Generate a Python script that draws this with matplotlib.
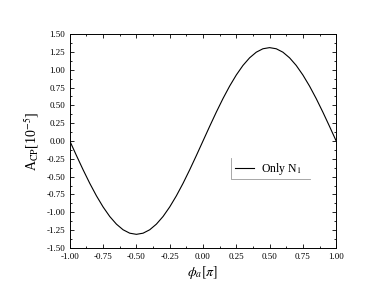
import numpy as np
import matplotlib
matplotlib.use('Agg')
import matplotlib.pyplot as plt
from matplotlib.ticker import MultipleLocator

# values
phi = [-1.00, -0.95, -0.90, -0.85, -0.80, -0.75, -0.70, -0.65, -0.60, -0.55, -0.50,
       -0.45, -0.40, -0.35, -0.30, -0.25, -0.20, -0.15, -0.10, -0.05, 0.00,
       0.05, 0.10, 0.15, 0.20, 0.25, 0.30, 0.35, 0.40, 0.45, 0.50,
       0.55, 0.60, 0.65, 0.70, 0.75, 0.80, 0.85, 0.90, 0.95, 1.00]
acp = [0.00, -0.205, -0.405, -0.595, -0.770, -0.926, -1.060, -1.167, -1.246, -1.294, -1.31,
       -1.294, -1.246, -1.167, -1.060, -0.926, -0.770, -0.595, -0.405, -0.205, 0.00,
       0.205, 0.405, 0.595, 0.770, 0.926, 1.060, 1.167, 1.246, 1.294, 1.31,
       1.294, 1.246, 1.167, 1.060, 0.926, 0.770, 0.595, 0.405, 0.205, 0.00]

plt.rcParams['font.family'] = ['Liberation Serif', 'DejaVu Serif']
plt.rcParams['mathtext.fontset'] = 'stix'

fig = plt.figure(figsize=(3.9, 2.99), dpi=100)
ax = fig.add_axes([0.179, 0.171, 0.683, 0.715])

ax.plot(phi, acp, color='black', lw=0.8, label='Only N$_1$')

ax.set_xlim(-1, 1)
ax.set_ylim(-1.5, 1.5)
ax.xaxis.set_major_locator(MultipleLocator(0.25))
ax.xaxis.set_minor_locator(MultipleLocator(0.125))
ax.yaxis.set_major_locator(MultipleLocator(0.25))
ax.yaxis.set_minor_locator(MultipleLocator(0.125))
ax.xaxis.set_major_formatter(plt.FuncFormatter(lambda v, p: f'{v:.2f}'))
ax.yaxis.set_major_formatter(plt.FuncFormatter(lambda v, p: f'{v:.2f}'))
ax.tick_params(which='both', direction='in', top=True, right=True, labelsize=6.5, width=0.6, colors='black')
ax.tick_params(which='major', length=3)
ax.tick_params(which='minor', length=1.5)
for s in ax.spines.values():
    s.set_linewidth(0.7)

ax.set_xlabel(r'$\phi_a[\pi]$', fontsize=10, labelpad=2)
ax.set_ylabel(r'A$_{\rm CP}$[10$^{-5}$]', fontsize=10, labelpad=4)

leg = ax.legend(loc='center left', bbox_to_anchor=(0.58, 0.37), frameon=False,
                fontsize=8.5, handlelength=1.6, handletextpad=0.6)
ax.plot([0.605, 0.605, 0.90], [0.42, 0.32, 0.32], transform=ax.transAxes,
        color='0.6', lw=0.6, clip_on=False)

fig.savefig('out.png', dpi=100)
